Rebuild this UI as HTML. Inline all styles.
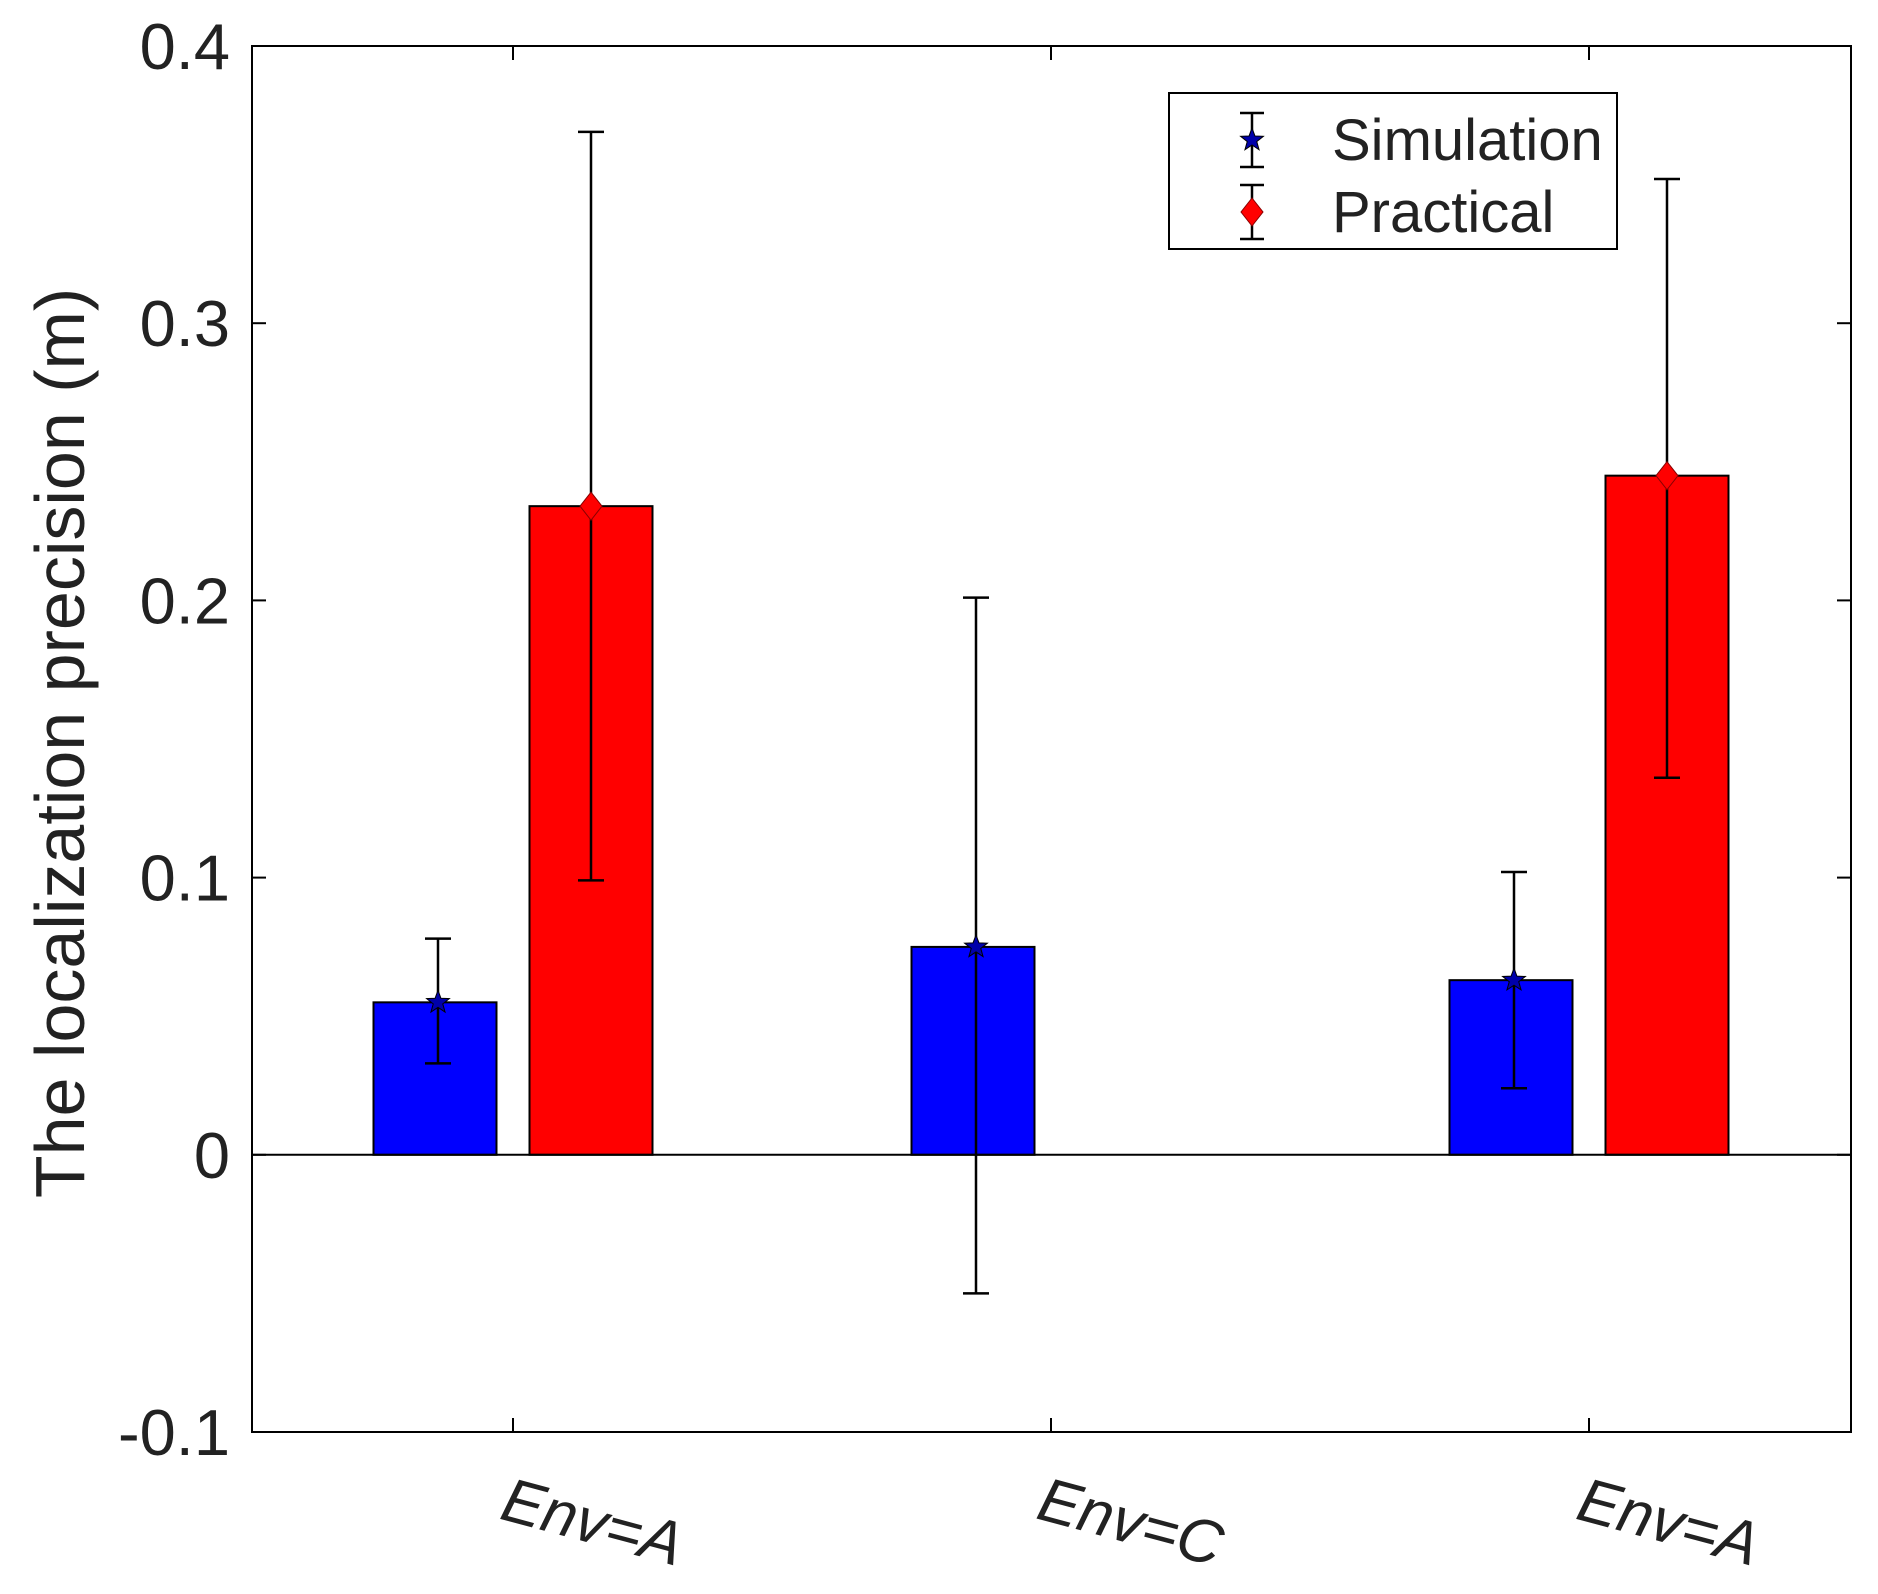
<!DOCTYPE html>
<html><head><meta charset="utf-8"><style>body{margin:0;background:#fff}svg{display:block}</style></head>
<body>
<svg id="chart" width="1878" height="1594" xmlns="http://www.w3.org/2000/svg" font-family="Liberation Sans, sans-serif"></svg>
<script>
const categories = ["Env=A", "Env=C", "Env=A"];
const simValues = [0.055, 0.075, 0.063];
const simLow = [0.033, -0.050, 0.024];
const simHigh = [0.078, 0.201, 0.102];
const pracValues = [0.234, null, 0.245];
const pracLow = [0.099, null, 0.136];
const pracHigh = [0.369, null, 0.352];
const yTicks = [-0.1, 0, 0.1, 0.2, 0.3, 0.4];
const yTickLabels = ["-0.1", "0", "0.1", "0.2", "0.3", "0.4"];

const svg = document.getElementById('chart');
const NS = 'http://www.w3.org/2000/svg';
const L = 252, R = 1851, T = 46, B = 1432;
const yMin = -0.1, yMax = 0.4;
const y = v => B - (v - yMin) / (yMax - yMin) * (B - T);
const gx = i => 513 + i * 538;
const barW = 123, off = 78;
function mk(tag, attrs, parent) {
  const e = document.createElementNS(NS, tag);
  for (const k in attrs) e.setAttribute(k, attrs[k]);
  (parent || svg).appendChild(e);
  return e;
}
categories.forEach((c, i) => {
  if (simValues[i] != null) {
    const r = mk('rect', {x: gx(i) - off - barW / 2, y: Math.min(y(simValues[i]), y(0)), width: barW, height: Math.abs(y(0) - y(simValues[i])), fill: '#0000ff', stroke: '#000', 'stroke-width': 2});
    
    
  }
  if (pracValues[i] != null) {
    const r = mk('rect', {x: gx(i) + off - barW / 2, y: Math.min(y(pracValues[i]), y(0)), width: barW, height: Math.abs(y(0) - y(pracValues[i])), fill: '#ff0000', stroke: '#000', 'stroke-width': 2});
    
    
  }
});
mk('line', {x1: L, x2: R, y1: y(0), y2: y(0), stroke: '#000', 'stroke-width': 2});
function errbar(x, lo, hi, v, color, star, name) {
  const g = mk('g', {});
  
  
  mk('line', {x1: x, x2: x, y1: y(lo), y2: y(hi), stroke: '#000', 'stroke-width': 2.5}, g);
  mk('line', {x1: x - 13, x2: x + 13, y1: y(lo), y2: y(lo), stroke: '#000', 'stroke-width': 2.5}, g);
  mk('line', {x1: x - 13, x2: x + 13, y1: y(hi), y2: y(hi), stroke: '#000', 'stroke-width': 2.5}, g);
  const cy = y(v);
  if (star) {
    let p = '';
    for (let k = 0; k < 10; k++) { const a = -Math.PI / 2 + k * Math.PI / 5; const rr = k % 2 ? 5 : 12; p += (x + rr * Math.cos(a)) + ',' + (cy + rr * Math.sin(a)) + ' '; }
    mk('polygon', {points: p, fill: color, stroke: '#000', 'stroke-width': 1}, g);
  } else {
    mk('polygon', {points: `${x},${cy - 14} ${x + 11},${cy} ${x},${cy + 14} ${x - 11},${cy}`, fill: color, stroke: '#800', 'stroke-width': 1}, g);
  }
}
categories.forEach((c, i) => {
  errbar(gx(i) - off + 3, simLow[i], simHigh[i], simValues[i], '#0000aa', true, 'errorbar-simulation-' + (i + 1));
  if (pracValues[i] != null) errbar(gx(i) + off, pracLow[i], pracHigh[i], pracValues[i], '#ff0000', false, 'errorbar-practical-' + (i + 1));
});
const box = mk('rect', {x: L, y: T, width: R - L, height: B - T, fill: 'none', stroke: '#000', 'stroke-width': 2});


yTicks.forEach((t, i) => {
  mk('line', {x1: L, x2: L + 14, y1: y(t), y2: y(t), stroke: '#000', 'stroke-width': 2});
  mk('line', {x1: R, x2: R - 14, y1: y(t), y2: y(t), stroke: '#000', 'stroke-width': 2});
  const tx = mk('text', {x: 230, y: y(t) + 23, 'text-anchor': 'end', 'font-size': 65, fill: '#222'});
  tx.textContent = yTickLabels[i];
  
  
});
categories.forEach((c, i) => {
  mk('line', {x1: gx(i), x2: gx(i), y1: B, y2: B - 14, stroke: '#000', 'stroke-width': 2});
  mk('line', {x1: gx(i), x2: gx(i), y1: T, y2: T + 14, stroke: '#000', 'stroke-width': 2});
  const cx = gx(i) + 80;
  const tx = mk('text', {x: cx, y: 1543, 'text-anchor': 'middle', 'font-size': 62, 'font-style': 'italic', fill: '#222', transform: `rotate(15 ${cx} 1521)`});
  tx.textContent = c;
  
  
});
const yl = mk('text', {x: 0, y: 0, 'text-anchor': 'middle', 'font-size': 70, fill: '#222', transform: 'translate(84 743) rotate(-90)'});
yl.textContent = 'The  localization precision (m)';


const lg = mk('g', {});


mk('rect', {x: 1169, y: 93, width: 448, height: 156, fill: '#fff', stroke: '#000', 'stroke-width': 2}, lg);
[[140, '#0000aa', true, 'Simulation'], [212, '#ff0000', false, 'Practical']].forEach(([ly, col, st, name]) => {
  const x = 1252;
  mk('line', {x1: x, x2: x, y1: ly - 27, y2: ly + 27, stroke: '#000', 'stroke-width': 2.5}, lg);
  mk('line', {x1: x - 12, x2: x + 12, y1: ly - 27, y2: ly - 27, stroke: '#000', 'stroke-width': 2.5}, lg);
  mk('line', {x1: x - 12, x2: x + 12, y1: ly + 27, y2: ly + 27, stroke: '#000', 'stroke-width': 2.5}, lg);
  if (st) {
    let p = '';
    for (let k = 0; k < 10; k++) { const a = -Math.PI / 2 + k * Math.PI / 5; const rr = k % 2 ? 5 : 12; p += (x + rr * Math.cos(a)) + ',' + (ly + rr * Math.sin(a)) + ' '; }
    mk('polygon', {points: p, fill: col, stroke: '#000', 'stroke-width': 1}, lg);
  } else {
    mk('polygon', {points: `${x},${ly - 14} ${x + 11},${ly} ${x},${ly + 14} ${x - 11},${ly}`, fill: col, stroke: '#800', 'stroke-width': 1}, lg);
  }
  const t = mk('text', {x: 1332, y: ly + 20, 'font-size': 58, fill: '#222'}, lg);
  t.textContent = name;
  
  
});
</script>
</body></html>
